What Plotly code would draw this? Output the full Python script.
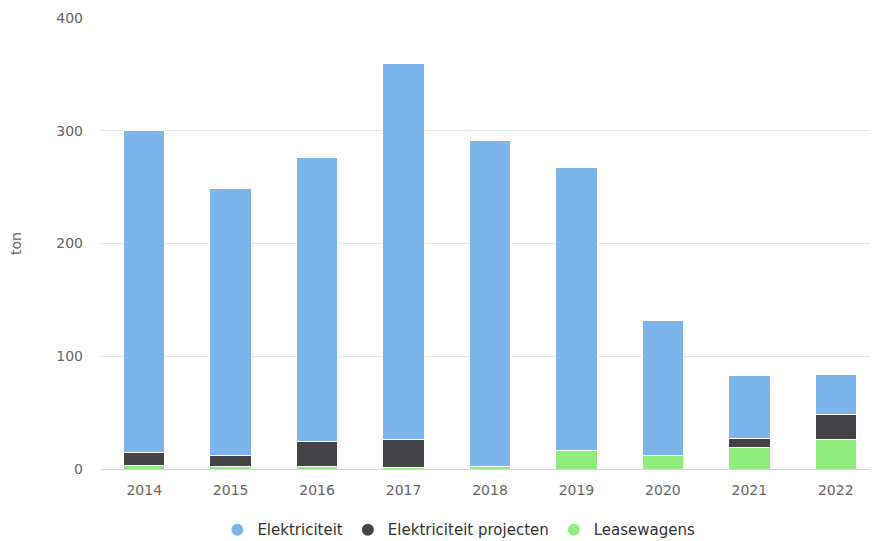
import plotly.graph_objects as go

years = ["2014", "2015", "2016", "2017", "2018", "2019", "2020", "2021", "2022"]
elektriciteit = [285, 237, 251.5, 334, 289, 250.5, 120, 55.5, 36]
elektriciteit_projecten = [12, 10, 22.5, 25, 0, 0, 0, 8, 21.5]
leasewagens = [3, 2, 2, 1, 2, 16.5, 12, 19, 26.5]

series_names = ["Elektriciteit", "Elektriciteit projecten", "Leasewagens"]
colors = {"Elektriciteit": "#7cb5ec", "Elektriciteit projecten": "#434348", "Leasewagens": "#90ed7d"}
values = {"Elektriciteit": elektriciteit, "Elektriciteit projecten": elektriciteit_projecten, "Leasewagens": leasewagens}

fig = go.Figure()
# stacking order: bottom first
for name in ["Leasewagens", "Elektriciteit projecten", "Elektriciteit"]:
    fig.add_trace(go.Bar(x=years, y=values[name], name=name,
                         marker=dict(color=colors[name], line=dict(color="#ffffff", width=1)),
                         showlegend=False))
# legend entries with circle symbols
for name in series_names:
    fig.add_trace(go.Scatter(x=[None], y=[None], mode="markers", name=name,
                             marker=dict(color=colors[name], size=14, symbol="circle")))

fig.update_layout(
    width=878, height=541,
    barmode="stack", bargap=0.52,
    plot_bgcolor="#ffffff", paper_bgcolor="#ffffff",
    margin=dict(l=93, r=7, t=10, b=80, autoexpand=False),
    font=dict(family="DejaVu Sans", size=14, color="#666666"),
    legend=dict(orientation="h", x=0.46, xanchor="center", y=-0.135, yanchor="middle",
                font=dict(size=15, color="#333333"), itemsizing="constant", traceorder="normal"),
    xaxis=dict(type="category", showgrid=False, showline=True, linecolor="#ccd6eb", linewidth=1,
               ticks="", ticklabelstandoff=8, automargin=False,
               tickfont=dict(size=14, color="#666666")),
    yaxis=dict(range=[0, 400], tickvals=[0, 100, 200, 300, 400], showgrid=True, gridcolor="#e6e6e6",
               zeroline=False, ticks="", ticklabelstandoff=17, automargin=False,
               title=dict(text="ton", font=dict(size=14, color="#666666"), standoff=50),
               tickfont=dict(size=14, color="#666666")),
)

fig.write_html("out.html")
